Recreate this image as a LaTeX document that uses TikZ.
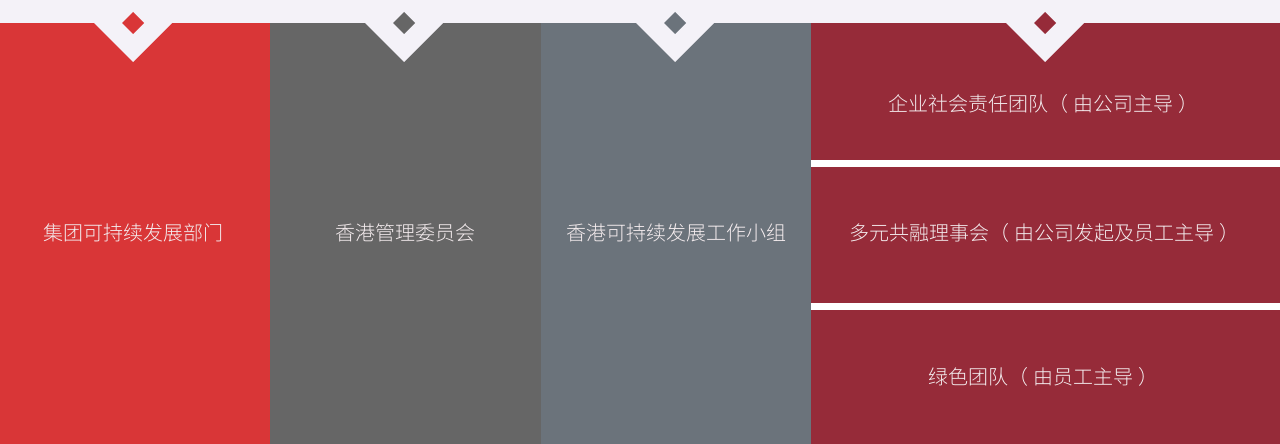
\documentclass[tikz,border=0pt]{standalone}
\usepackage{fontspec}
\IfFontExistsTF{Noto Sans CJK SC Light}
  {\newfontfamily\cjk{Noto Sans CJK SC Light}}
  {\newfontfamily\cjk{Noto Sans CJK SC}}
\definecolor{bandbg}{HTML}{F4F2F8}
\definecolor{colred}{HTML}{D93637}
\definecolor{colgray}{HTML}{666666}
\definecolor{colslate}{HTML}{6B737B}
\definecolor{colwine}{HTML}{962B39}
\definecolor{txtcol}{HTML}{F4ECEE}
\newcommand{\lpar}{（\hspace{5pt}}
\newcommand{\rpar}{\hspace{5pt}）}

\begin{document}
\begin{tikzpicture}[x=1pt,y=-1pt,
    lbl/.style={font=\cjk\fontsize{20}{24}\selectfont, text=txtcol, inner sep=0pt}]
          %\draw[help lines] (0,0) grid (1280,444);
          \useasboundingbox (0,0) rectangle (1280,444);
          \fill[bandbg] (0,0) rectangle (1280,23);
          \fill[colred] (0,23) rectangle (270,444);
          \fill[colgray] (270,23) rectangle (541,444);
          \fill[colslate] (541,23) rectangle (811,444);
          \fill[colwine] (811,23) rectangle (1280,444);
          %white bars between the three teams
          \fill[white] (811,160) rectangle (1280,167);
          \fill[white] (811,303) rectangle (1280,310);
          %notch and diamond on top of each column
          \foreach \cx/\col in {133/colred,404/colgray,675/colslate,1045/colwine}{
            \fill[bandbg] (\cx-40,22) -- (\cx,62) -- (\cx+40,22) -- cycle;
            \fill[\col] (\cx,12) -- (\cx+11,23) -- (\cx,34) -- (\cx-11,23) -- cycle;
          }
          \node[lbl] (group) at (133,233) {集团可持续发展部门};
          \node[lbl] (hkcommittee) at (405,233) {香港管理委员会};
          \node[lbl] (hkworkgroup) at (676,233) {香港可持续发展工作小组};
          \node[lbl] (csr) at (1043,104) {企业社会责任团队\lpar 由公司主导\rpar};
          \node[lbl] (diversity) at (1044,233) {多元共融理事会\lpar 由公司发起及员工主导\rpar};
          \node[lbl] (green) at (1043,377) {绿色团队\lpar 由员工主导\rpar};
\end{tikzpicture}
\end{document}
